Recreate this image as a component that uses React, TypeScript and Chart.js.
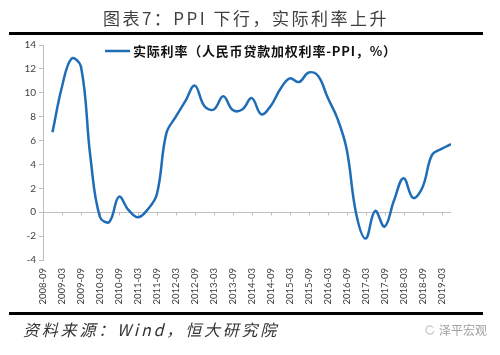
import { useEffect, useRef } from "react";
import { Chart, registerables } from "chart.js";

Chart.register(...registerables);

const TITLE = "图表7：PPI 下行，实际利率上升";
const SERIES_LABEL = "实际利率（人民币贷款加权利率-PPI，%）";
const SOURCE = "资料来源：Wind，恒大研究院";
const WATERMARK = "泽平宏观";

const DATES = [
  "2008-12", "2009-03", "2009-06", "2009-09", "2009-12",
  "2010-03", "2010-06", "2010-09", "2010-12",
  "2011-03", "2011-06", "2011-09", "2011-12",
  "2012-03", "2012-06", "2012-09", "2012-12",
  "2013-03", "2013-06", "2013-09", "2013-12",
  "2014-03", "2014-06", "2014-09", "2014-12",
  "2015-03", "2015-06", "2015-09", "2015-12",
  "2016-03", "2016-06", "2016-09", "2016-12",
  "2017-03", "2017-06", "2017-09", "2017-12",
  "2018-03", "2018-06", "2018-09", "2018-12",
  "2019-03", "2019-06",
];

const VALUES = [
  6.7, 10.5, 12.85, 12.2, 4.6,
  -0.4, -0.8, 1.3, 0.2,
  -0.42, 0.2, 1.5, 6.6,
  8.0, 9.3, 10.6, 8.9,
  8.6, 9.7, 8.55, 8.6,
  9.55, 8.2, 8.9, 10.3,
  11.2, 10.9, 11.7, 11.4,
  9.6, 7.9, 5.3, -0.1,
  -2.2, 0.1, -1.2, 1.0,
  2.85, 1.2, 2.1, 4.8,
  5.3, 5.7,
];

const TICK_LABELS = [
  "2008-09", "2009-03", "2009-09", "2010-03", "2010-09", "2011-03",
  "2011-09", "2012-03", "2012-09", "2013-03", "2013-09", "2014-03",
  "2014-09", "2015-03", "2015-09", "2016-03", "2016-09", "2017-03",
  "2017-09", "2018-03", "2018-09", "2019-03",
];

const Y_MIN = -4;
const Y_MAX = 14;
const Y_STEP = 2;
const MONTHS_PER_TICK = 6;

const LINE_COLOR = "#1f6db6";
const AXIS_COLOR = "#bfbfbf";
const CJK = "'Noto Sans CJK SC', sans-serif";

function monthIndex(d: string): number {
  const [y, m] = d.split("-").map(Number);
  return (y - 2008) * 12 + (m - 9);
}

const decorations = {
  id: "decorations",
  beforeDatasetsDraw(chart: any) {
    const { ctx, chartArea, scales } = chart;
    const y0 = scales.y.getPixelForValue(0);
    ctx.save();
    ctx.strokeStyle = AXIS_COLOR;
    ctx.lineWidth = 1;
    ctx.beginPath();
    ctx.moveTo(chartArea.left, Math.round(y0) + 0.5);
    ctx.lineTo(chartArea.right, Math.round(y0) + 0.5);
    for (let i = 1; i < TICK_LABELS.length; i++) {
      const x = Math.round(scales.x.getPixelForValue(i * MONTHS_PER_TICK)) + 0.5;
      ctx.moveTo(x, Math.round(y0) + 0.5);
      ctx.lineTo(x, Math.round(y0) + 3.5);
    }
    ctx.stroke();
    ctx.restore();
  },
  afterDraw(chart: any) {
    const { ctx } = chart;
    ctx.save();
    // title
    ctx.fillStyle = "#404040";
    ctx.font = `17px ${CJK}`;
    (ctx as any).letterSpacing = "2.5px";
    ctx.textAlign = "center";
    ctx.textBaseline = "middle";
    ctx.fillText(TITLE, 246, 19);
    // rules
    ctx.fillStyle = "#000";
    ctx.fillRect(9, 32, 474, 3);
    ctx.fillRect(9, 312, 474, 3);
    // source
    ctx.fillStyle = "#333";
    ctx.font = `italic 16px ${CJK}`;
    (ctx as any).letterSpacing = "2.8px";
    ctx.textAlign = "left";
    ctx.fillText(SOURCE, 23, 330);
    // watermark
    (ctx as any).letterSpacing = "0px";
    ctx.fillStyle = "#a0a0a0";
    ctx.font = `12px ${CJK}`;
    ctx.fillText(WATERMARK, 439, 330);
    ctx.strokeStyle = "#b0b0b0";
    ctx.lineWidth = 1;
    ctx.beginPath();
    ctx.arc(430, 330, 4, 0.3, Math.PI * 1.8);
    ctx.stroke();
    // legend
    ctx.strokeStyle = LINE_COLOR;
    ctx.lineWidth = 2.5;
    ctx.beginPath();
    ctx.moveTo(105, 51);
    ctx.lineTo(130, 51);
    ctx.stroke();
    ctx.fillStyle = "#111";
    ctx.font = `bold 13px ${CJK}`;
    (ctx as any).letterSpacing = "0.8px";
    ctx.textAlign = "left";
    ctx.fillText(chart.data.datasets[0].label, 133, 51);
    ctx.restore();
  },
};

export default function App() {
  const ref = useRef<HTMLCanvasElement | null>(null);
  useEffect(() => {
    if (!ref.current) return;
    const chart = new Chart(ref.current, {
      type: "line",
      data: {
        datasets: [
          {
            label: SERIES_LABEL,
            data: DATES.map((d, i) => ({ x: monthIndex(d), y: VALUES[i] })),
            borderColor: LINE_COLOR,
            borderWidth: 2.5,
            pointRadius: 0,
            tension: 0.4,
            fill: false,
          },
        ],
      },
      options: {
        animation: false,
        responsive: false,
        devicePixelRatio: 1,
        layout: { padding: { left: 0, right: 49, top: 45, bottom: 0 } },
        plugins: { legend: { display: false }, tooltip: { enabled: false } },
        scales: {
          x: {
            type: "linear",
            min: 0,
            max: monthIndex(DATES[DATES.length - 1]),
            grid: { display: false, drawTicks: false },
            border: { display: false },
            afterBuildTicks: (scale: any) => {
              scale.ticks = TICK_LABELS.map((_, i) => ({ value: i * MONTHS_PER_TICK }));
            },
            afterFit: (scale: any) => {
              scale.height = 95;
            },
            ticks: {
              autoSkip: false,
              minRotation: 90,
              maxRotation: 90,
              padding: 8,
              color: "#404040",
              font: { family: "Lato, sans-serif", size: 9.5 },
              callback: (v: any) => TICK_LABELS[Math.round(Number(v) / MONTHS_PER_TICK)] ?? "",
            },
          },
          y: {
            min: Y_MIN,
            max: Y_MAX,
            grid: { drawOnChartArea: false, drawTicks: true, tickLength: 4, color: AXIS_COLOR },
            border: { display: true, color: AXIS_COLOR },
            afterFit: (scale: any) => {
              scale.width = 43;
            },
            ticks: {
              stepSize: Y_STEP,
              padding: 3,
              color: "#404040",
              font: { family: "Lato, sans-serif", size: 10 },
            },
          },
        },
      },
      plugins: [decorations],
    });
    return () => chart.destroy();
  }, []);
  return (
    <div style={{ position: "fixed", left: 0, top: 0, width: 500, height: 355, background: "#fff" }}>
      <canvas ref={ref} width={500} height={355} style={{ width: 500, height: 355 }} />
    </div>
  );
}
